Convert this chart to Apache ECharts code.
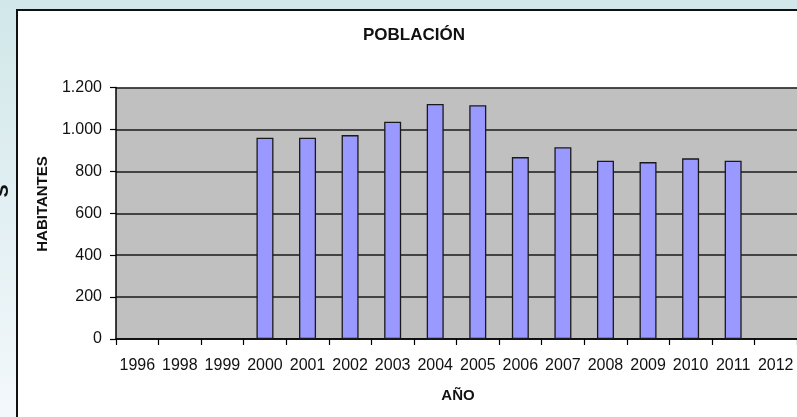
<!DOCTYPE html>
<html>
  <head>
    <meta charset="utf-8" />
    <title>Población</title>
    <script src="https://cdn.jsdelivr.net/npm/echarts@6/dist/echarts.min.js"></script>
    <style>
      html, body { margin: 0; padding: 0; }
    </style>
  </head>
  <body>
    <div id="main" style="width: 797px;height:417px;"></div>
    <script type="text/javascript">
      // años y habitantes
      var anios = ['1996', '1998', '1999', '2000', '2001', '2002', '2003', '2004',
                   '2005', '2006', '2007', '2008', '2009', '2010', '2011', '2012'];
      var habitantes = [null, null, null, 960, 960, 973, 1037, 1121,
                        1115, 868, 915, 851, 844, 862, 851, null];
      var yMax = 1200;
      var yPaso = 200;

      var fuente = '"Liberation Sans", Arial, sans-serif';

      function miles(v) {
        // 1200 -> 1.200
        return String(v).replace(/\B(?=(\d{3})+(?!\d))/g, '.');
      }

      var myChart = echarts.init(document.getElementById('main'));

      var option = {
        backgroundColor: {
          type: 'linear', x: 0, y: 0, x2: 0, y2: 1,
          colorStops: [
            { offset: 0, color: '#d1e7e9' },
            { offset: 1, color: '#f3f8fc' }
          ]
        },
        animation: false,
        grid: {
          left: 116,
          top: 87.5,
          width: 684,
          height: 251.5,
          show: true,
          backgroundColor: '#c0c0c0',
          borderWidth: 0
        },
        xAxis: {
          type: 'category',
          data: anios,
          boundaryGap: true,
          axisLine: { show: true, lineStyle: { color: '#000', width: 1.5 } },
          axisTick: { show: true, alignWithLabel: false, length: 6, lineStyle: { color: '#000', width: 1.2 } },
          axisLabel: { color: '#111', fontFamily: fuente, fontSize: 16, margin: 19, interval: 0 },
          splitLine: { show: false }
        },
        yAxis: {
          type: 'value',
          min: 0,
          max: yMax,
          interval: yPaso,
          axisLine: { show: true, lineStyle: { color: '#000', width: 1.5 } },
          axisTick: { show: true, length: 6, lineStyle: { color: '#000', width: 1.2 } },
          axisLabel: { color: '#111', fontFamily: fuente, fontSize: 16, margin: 14, formatter: miles },
          splitLine: { show: true, lineStyle: { color: '#1a1a1a', width: 1.5 } }
        },
        series: [{
          type: 'bar',
          data: habitantes,
          barWidth: 17,
          itemStyle: { color: '#9999ff', borderColor: '#1a1a1a', borderWidth: 1.3 }
        }],
        graphic: [
          {
            type: 'rect', z: -10, silent: true,
            shape: { x: 17, y: 10, width: 800, height: 420 },
            style: { fill: '#fff', stroke: '#111', lineWidth: 2 }
          },
          {
            type: 'text', z: 100, x: 414, y: 35,
            style: { text: 'POBLACIÓN', font: 'bold 17px ' + fuente, fill: '#111', align: 'center', verticalAlign: 'middle' }
          },
          {
            type: 'text', z: 100, x: 458, y: 396,
            style: { text: 'AÑO', font: 'bold 15px ' + fuente, fill: '#111', align: 'center', verticalAlign: 'middle' }
          },
          {
            type: 'text', z: 100, x: 43, y: 204, rotation: Math.PI / 2,
            style: { text: 'HABITANTES', font: 'bold 15px ' + fuente, fill: '#111', align: 'center', verticalAlign: 'middle' }
          },
          {
            type: 'text', z: 100, x: 3, y: 191, rotation: Math.PI / 2,
            style: { text: 'S', font: 'bold 19px ' + fuente, fill: '#111', align: 'center', verticalAlign: 'middle' }
          }
        ]
      };

      myChart.setOption(option);
    </script>
  </body>
</html>
